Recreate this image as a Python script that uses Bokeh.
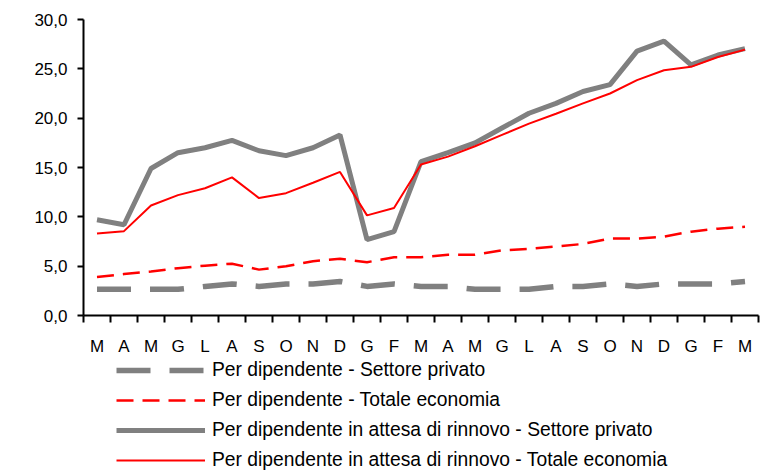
from bokeh.plotting import figure
from bokeh.layouts import column
from bokeh.models import FixedTicker, Legend, LegendItem, Range1d, CustomJSTickFormatter
from bokeh.embed import file_html
from bokeh.resources import INLINE

months = ["M", "A", "M", "G", "L", "A", "S", "O", "N", "D", "G", "F",
          "M", "A", "M", "G", "L", "A", "S", "O", "N", "D", "G", "F", "M"]

per_dip_privato = [2.65, 2.65, 2.65, 2.65, 2.95, 3.2, 2.95, 3.2, 3.2, 3.45, 2.95, 3.2,
                   2.95, 2.95, 2.65, 2.65, 2.65, 2.95, 2.95, 3.2, 2.95, 3.2, 3.2, 3.2, 3.45]
per_dip_totale = [3.9, 4.2, 4.45, 4.8, 5.05, 5.25, 4.65, 5.0, 5.5, 5.75, 5.4, 5.9,
                  5.9, 6.15, 6.15, 6.6, 6.75, 7.0, 7.25, 7.8, 7.8, 8.0, 8.5, 8.8, 9.0]
attesa_privato = [9.7, 9.2, 14.9, 16.5, 17.0, 17.75, 16.7, 16.2, 17.0, 18.3, 7.7, 8.5,
                  15.6, 16.5, 17.5, 19.0, 20.5, 21.5, 22.7, 23.4, 26.8, 27.8, 25.4, 26.4, 27.05]
attesa_totale = [8.3, 8.55, 11.15, 12.2, 12.9, 14.0, 11.9, 12.4, 13.45, 14.55, 10.15, 10.9,
                 15.3, 16.1, 17.15, 18.3, 19.45, 20.45, 21.5, 22.5, 23.85, 24.85, 25.2, 26.2, 26.95]

y_ticks = [0, 5, 10, 15, 20, 25, 30]
legend_labels = [
    "Per dipendente - Settore privato",
    "Per dipendente - Totale economia",
    "Per dipendente in attesa di rinnovo - Settore privato",
    "Per dipendente in attesa di rinnovo - Totale economia",
]

FONT = "Liberation Sans"
GRAY = "#808080"
RED = "#FF0000"

series = [per_dip_privato, per_dip_totale, attesa_privato, attesa_totale]
styles = [
    dict(line_color=GRAY, line_width=5.5, line_dash="34 19"),
    dict(line_color=RED, line_width=2.5, line_dash="17 9"),
    dict(line_color=GRAY, line_width=5),
    dict(line_color=RED, line_width=2),
]

n = len(months)
x = [i + 0.5 for i in range(n)]

# ---- main chart ----
p = figure(width=761, height=359, output_backend="svg", toolbar_location=None,
           x_range=Range1d(0, n), y_range=Range1d(0, 30),
           min_border_left=83, min_border_right=3, min_border_top=19, min_border_bottom=44)
p.outline_line_color = None
p.xgrid.visible = False
p.ygrid.visible = False

for s, st in zip(series, styles):
    p.line(x, s, **st)

xa = p.xaxis[0]
xa.ticker = FixedTicker(ticks=x, minor_ticks=list(range(n + 1)))
xa.formatter = CustomJSTickFormatter(args=dict(m=months), code="return m[Math.floor(tick)]")
xa.major_tick_out = 0
xa.major_tick_in = 0
xa.minor_tick_out = 7
xa.minor_tick_in = 0
xa.minor_tick_line_color = "black"
xa.minor_tick_line_width = 2
xa.axis_line_color = "black"
xa.axis_line_width = 2
xa.major_label_standoff = 14
xa.major_label_text_font = FONT
xa.major_label_text_font_size = "17px"
xa.major_label_text_color = "black"

ya = p.yaxis[0]
ya.ticker = FixedTicker(ticks=y_ticks)
ya.formatter = CustomJSTickFormatter(code="return tick.toFixed(1).replace('.', ',')")
ya.major_tick_out = 6
ya.major_tick_in = 0
ya.minor_tick_out = 0
ya.minor_tick_in = 0
ya.major_tick_line_color = "black"
ya.major_tick_line_width = 2
ya.axis_line_color = "black"
ya.axis_line_width = 2
ya.major_label_standoff = 10
ya.major_label_text_font = FONT
ya.major_label_text_font_size = "17px"
ya.major_label_text_color = "black"

# ---- legend strip ----
q = figure(width=761, height=112, output_backend="svg", toolbar_location=None,
           x_range=Range1d(100, 101), y_range=Range1d(100, 101),
           x_axis_location=None, y_axis_location=None,
           min_border_left=0, min_border_right=0, min_border_top=0, min_border_bottom=0)
q.outline_line_color = None
q.xgrid.visible = False
q.ygrid.visible = False

items = []
for s, st, lab in zip(series, styles, legend_labels):
    r = q.line(x, s, **st)
    items.append(LegendItem(label=lab, renderers=[r]))

legend = Legend(items=items, location=(33, 0))
legend.glyph_width = 89
legend.glyph_height = 22
legend.label_height = 22
legend.spacing = 8
legend.label_standoff = 7
legend.padding = 0
legend.margin = 0
legend.label_text_font = FONT
legend.label_text_font_size = "19.3px"
legend.label_text_color = "black"
legend.background_fill_alpha = 0
legend.border_line_alpha = 0
q.add_layout(legend, "center")

layout = column(p, q, spacing=0)
open("out.html", "w").write(file_html(layout, INLINE))
